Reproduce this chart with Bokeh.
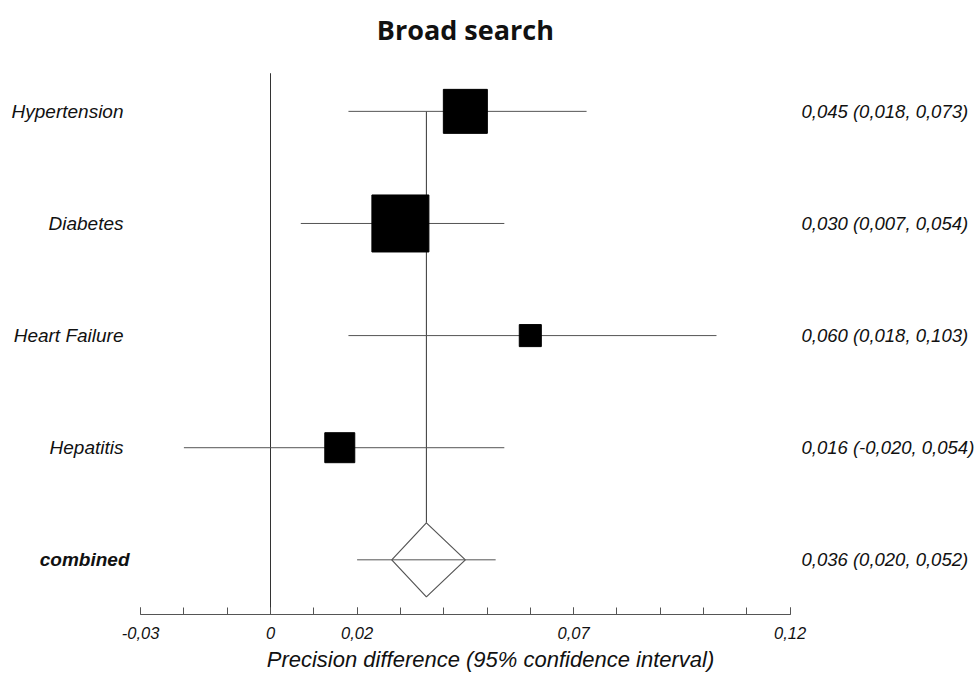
from bokeh.plotting import figure
from bokeh.models import Range1d, LinearAxis, FixedTicker, ColumnDataSource
from bokeh.core.properties import value
from bokeh.embed import file_html
from bokeh.resources import INLINE
import math

# ---- data ----
studies = ["Hypertension", "Diabetes", "Heart Failure", "Hepatitis"]
estimates = [0.045, 0.030, 0.060, 0.016]
ci_low = [0.018, 0.007, 0.018, -0.020]
ci_high = [0.073, 0.054, 0.103, 0.054]
weights = [29.5, 49.5, 7.4, 13.7]
combined_label = "combined"
combined_est = 0.036
combined_low = 0.020
combined_high = 0.052
combined_diamond = [0.028, 0.045]
major_ticks = [-0.03, 0.0, 0.02, 0.07, 0.12]
tick_labels = ["-0,03", "0", "0,02", "0,07", "0,12"]
minor_ticks = [round(-0.03 + 0.01 * i, 2) for i in range(16)]

def fmt(v):
    return f"{v:.3f}".replace(".", ",")

# ---- layout constants ----
PX_PER_UNIT = 4330.0
ZERO_X = 270.0
FIG_W = 980
FRAME_H = 612
ROW_PX = 111.75
xstart = -ZERO_X / PX_PER_UNIT
xend = xstart + FIG_W / PX_PER_UNIT
ystart = 1 - (612 - 557.5) / ROW_PX
yend = ystart + FRAME_H / ROW_PX

n = len(studies)
rows = [n + 1 - i for i in range(n)]  # 5,4,3,2
comb_row = 1

p = figure(width=FIG_W, height=674, output_backend="svg", toolbar_location=None,
           x_range=Range1d(xstart, xend), y_range=Range1d(ystart, yend),
           x_axis_location=None, y_axis_location=None,
           min_border_left=0, min_border_right=0, min_border_top=0, min_border_bottom=0)
p.outline_line_color = None
p.xgrid.visible = False
p.ygrid.visible = False
p.background_fill_color = "white"
p.border_fill_color = "white"

axis = LinearAxis(bounds=(major_ticks[0], major_ticks[-1]))
axis.ticker = FixedTicker(ticks=major_ticks, minor_ticks=minor_ticks)
axis.major_label_overrides = {t: l for t, l in zip(major_ticks, tick_labels)}
axis.major_tick_in = 7
axis.major_tick_out = 0
axis.minor_tick_in = 7
axis.minor_tick_out = 0
axis.axis_line_color = "#555555"
axis.major_tick_line_color = "#555555"
axis.minor_tick_line_color = "#555555"
axis.major_label_text_font = "Liberation Sans"
axis.major_label_text_font_style = "italic"
axis.major_label_text_font_size = "16.5px"
axis.major_label_text_color = "#111111"
axis.major_label_standoff = 12
axis.axis_label = "Precision difference (95% confidence interval)"
axis.axis_label_text_font = "Liberation Sans"
axis.axis_label_text_font_style = "italic"
axis.axis_label_text_font_size = "22px"
axis.axis_label_text_color = "#111111"
axis.axis_label_standoff = 5
p.add_layout(axis, "below")

# reference lines
p.segment(x0=[0.0], y0=[ystart], x1=[0.0], y1=[5.34], line_color="#333333", line_width=1)
diamond_h = 0.33
p.segment(x0=[combined_est], y0=[rows[0]], x1=[combined_est], y1=[comb_row + diamond_h],
          line_color="#333333", line_width=1)

# study CIs and squares
src = ColumnDataSource(dict(
    y=rows, est=estimates, lo=ci_low, hi=ci_high,
    size=[57 * math.sqrt(w / max(weights)) for w in weights],
))
p.segment(x0="lo", y0="y", x1="hi", y1="y", source=src, line_color="#555555", line_width=1)
p.scatter(x="est", y="y", size="size", marker="square", source=src,
          fill_color="black", line_color="black")

# combined diamond
p.patch(x=[combined_diamond[0], combined_est, combined_diamond[1], combined_est],
        y=[comb_row, comb_row + diamond_h, comb_row, comb_row - diamond_h],
        fill_color="white", line_color="#555555", line_width=1.2)
p.segment(x0=[combined_low], y0=[comb_row], x1=[combined_high], y1=[comb_row],
          line_color="#555555", line_width=1)

# labels
left_x = (123 - ZERO_X) / PX_PER_UNIT
right_x = (801 - ZERO_X) / PX_PER_UNIT
p.text(x=[left_x] * n, y=rows, text=studies, text_align="right", text_baseline="middle",
       text_font=value("Liberation Sans"), text_font_style="italic",
       text_font_size=value("19px"), text_color="#111111")
p.text(x=[left_x + 6 / PX_PER_UNIT], y=[comb_row], text=[combined_label], text_align="right",
       text_baseline="middle", text_font=value("Liberation Sans"), text_font_style="bold italic",
       text_font_size=value("19px"), text_color="#111111")
right_texts = [f"{fmt(e)} ({fmt(l)}, {fmt(h)})" for e, l, h in zip(estimates, ci_low, ci_high)]
right_texts.append(f"{fmt(combined_est)} ({fmt(combined_low)}, {fmt(combined_high)})")
p.text(x=[right_x] * (n + 1), y=rows + [comb_row], text=right_texts, text_align="left",
       text_baseline="middle", text_font=value("Liberation Sans"), text_font_style="italic",
       text_font_size=value("18.5px"), text_color="#111111")

# title
title_y = 5 + (110 - 28) / ROW_PX
p.text(x=[(major_ticks[0] + major_ticks[-1]) / 2], y=[title_y], text=["Broad search"],
       text_align="center", text_baseline="middle", text_font=value("Open Sans"),
       text_font_style="bold", text_font_size=value("27px"), text_color="#111111")

open("out.html", "w").write(file_html(p, INLINE))
